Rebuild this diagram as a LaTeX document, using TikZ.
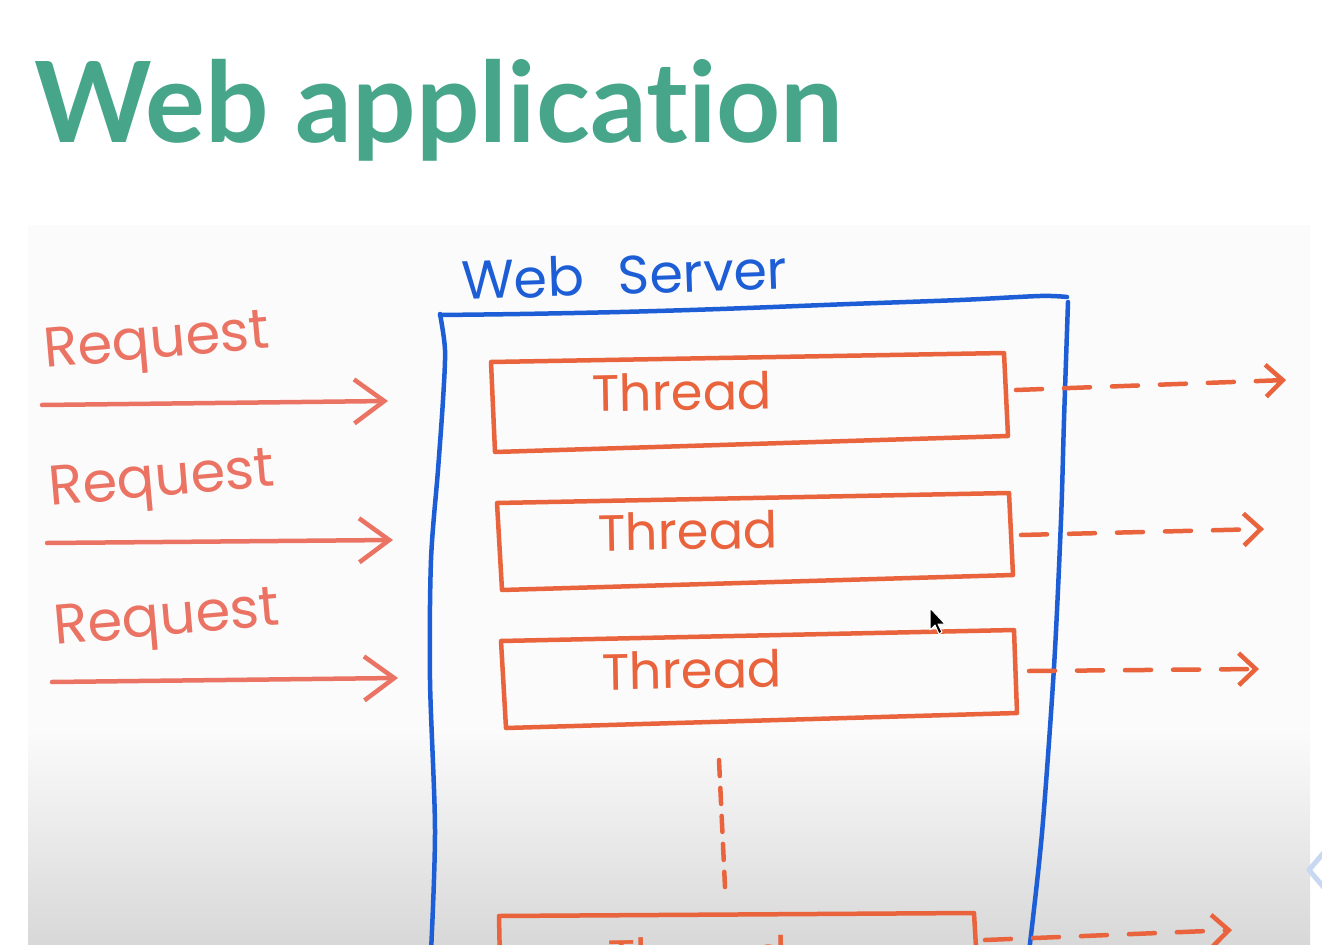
\documentclass[tikz,border=0pt]{standalone}
\usepackage{fontspec}
\usetikzlibrary{arrows.meta}
\newfontfamily\titlefont{Lato}[Ligatures=NoCommon]
\newfontfamily\handfont{Poppins}

\definecolor{titlegreen}{HTML}{47A68A}
\definecolor{penblue}{HTML}{1D5ED6}
\definecolor{penred}{HTML}{E9633D}
\definecolor{pensalmon}{HTML}{EB7363}
\definecolor{panelbg}{HTML}{FBFBFB}
\definecolor{panelshade}{HTML}{D8D8D8}
\definecolor{navhint}{HTML}{C9D8F2}

\tikzset{
  pen/.style={line width=4.5pt, line cap=round, line join=round},
  serverline/.style={pen, draw=penblue},
  threadline/.style={pen, draw=penred},
  reqarrow/.style={pen, draw=pensalmon, -{Straight Barb[length=30pt,width=44pt]}},
  outarrow/.style={pen, draw=penred, dash pattern=on 26pt off 22pt,
                   -{Straight Barb[length=17pt,width=32pt]}},
  handtext/.style={anchor=base west, inner sep=0pt},
  reqlabel/.style={handtext, text=pensalmon, rotate=5,
                   font=\handfont\fontsize{56}{60}\selectfont},
  threadlabel/.style={handtext, text=penred, rotate=1,
                      font=\handfont\fontsize{51}{56}\selectfont},
}

\begin{document}
\begin{tikzpicture}[x=1pt, y=-1pt]
\useasboundingbox (0,0) rectangle (1322,952);

% page and whiteboard panel
\fill[white] (0,0) rectangle (1322,952);
\fill[panelbg] (28,225) rectangle (1310,944);
\shade[top color=panelbg, bottom color=panelshade] (28,730) rectangle (1310,944);

% heading
\node[anchor=base west, inner sep=0pt, text=titlegreen,
      font=\titlefont\bfseries\fontsize{112}{124}\selectfont] (title) at (34,143) {Web application};

% server label
\node[handtext, text=penblue, rotate=2, font=\handfont\fontsize{54}{60}\selectfont]
  (serverlabel) at (462,300) {Web\hspace{34pt}Server};

\begin{scope}
\clip (0,200) rectangle (1322,944);

% server outline
\draw[serverline] plot[smooth] coordinates {(440,314) (445,350) (443,400) (438,470) (431,560) (430,680) (435,830) (431,952)};
\draw[serverline] plot[smooth] coordinates {(440,315) (520,314) (620,312) (720,309) (850,304) (960,300) (1040,296) (1067,297)};
\draw[serverline] plot[smooth] coordinates {(1068,302) (1064,420) (1061,520) (1054,667) (1042,833) (1029,952)};

% thread boxes
\coordinate (t1nw) at (491,362); \coordinate (t1ne) at (1004,353);
\coordinate (t1se) at (1008,436); \coordinate (t1sw) at (495,452);
\coordinate (t2nw) at (497,503); \coordinate (t2ne) at (1009,493);
\coordinate (t2se) at (1013,575); \coordinate (t2sw) at (502,590);
\coordinate (t3nw) at (501,641); \coordinate (t3ne) at (1014,630);
\coordinate (t3se) at (1017,713); \coordinate (t3sw) at (506,728);
\coordinate (t4nw) at (499,916); \coordinate (t4ne) at (974,913);
\coordinate (t4se) at (977,965); \coordinate (t4sw) at (500,965);
\draw[threadline] (t1nw) -- (t1ne) -- (t1se) -- (t1sw) -- cycle;
\draw[threadline] (t2nw) -- (t2ne) -- (t2se) -- (t2sw) -- cycle;
\draw[threadline] (t3nw) -- (t3ne) -- (t3se) -- (t3sw) -- cycle;
\draw[threadline] (t4sw) -- (t4nw) -- (t4ne) -- (t4se);

\node[threadlabel] (th1) at (592,412) {Thread};
\node[threadlabel] (th2) at (598,551) {Thread};
\node[threadlabel] (th3) at (602,690) {Thread};
\node[threadlabel] (th4) at (608,976) {Thread};

% more threads below
\coordinate (vtop) at (719,760); \coordinate (vbot) at (725,887);
\draw[threadline, dash pattern=on 16pt off 12pt] (vtop) -- (vbot);

% outgoing work from each thread
\coordinate (o1s) at (1016,390); \coordinate (o1e) at (1286,380);
\coordinate (o2s) at (1021,535); \coordinate (o2e) at (1264,529);
\coordinate (o3s) at (1029,671); \coordinate (o3e) at (1259,669);
\coordinate (o4s) at (985,940);  \coordinate (o4e) at (1232,930);
\draw[outarrow] (o1s) -- (o1e);
\draw[outarrow] (o2s) -- (o2e);
\draw[outarrow] (o3s) -- (o3e);
\draw[outarrow] (o4s) -- (o4e);
\end{scope}

% incoming requests
\node[reqlabel] (rq1) at (45,368) {Request};
\node[reqlabel] (rq2) at (50,506) {Request};
\node[reqlabel] (rq3) at (55,645) {Request};
\coordinate (r1s) at (42,405); \coordinate (r1e) at (388,401);
\coordinate (r2s) at (47,543); \coordinate (r2e) at (393,540);
\coordinate (r3s) at (52,682); \coordinate (r3e) at (398,678);
\draw[reqarrow] (r1s) -- (r1e);
\draw[reqarrow] (r2s) -- (r2e);
\draw[reqarrow] (r3s) -- (r3e);

% mouse pointer
\filldraw[fill=black, draw=white, line width=1pt, line join=round]
  (930,608) -- (930,630) -- (935,625) -- (939,634) -- (942,632) -- (938,624) -- (945,624) -- cycle;

% slide navigation hint at the right edge
\draw[navhint, line width=5pt, line cap=round, line join=round] (1326,850) -- (1309,870) -- (1326,890);
\end{tikzpicture}
\end{document}
